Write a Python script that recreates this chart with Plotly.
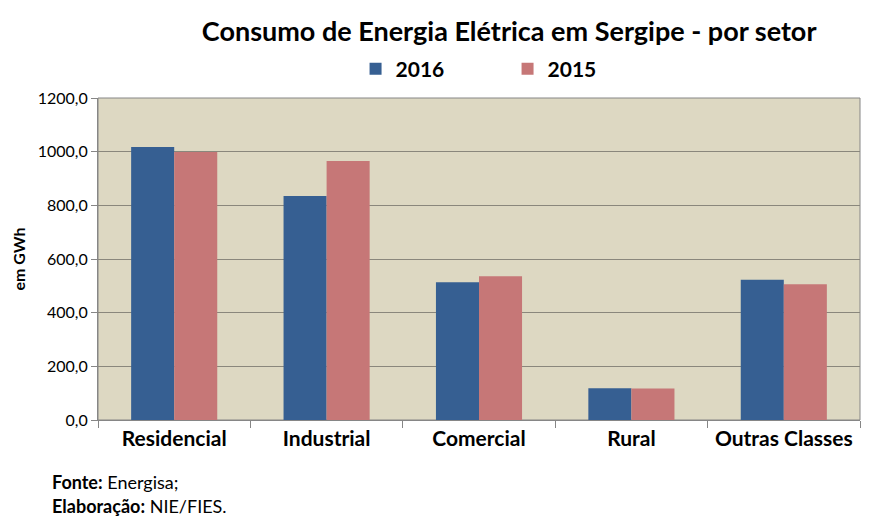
import plotly.graph_objects as go

setores = ["Residencial", "Industrial", "Comercial", "Rural", "Outras Classes"]
consumo_2016 = [1017.0, 835.0, 513.0, 118.0, 523.0]
consumo_2015 = [999.0, 965.0, 536.0, 117.0, 506.0]

FONTE = "Lato, 'Open Sans', sans-serif"

fig = go.Figure()
fig.add_trace(go.Bar(x=setores, y=consumo_2016, name="<b>2016</b>",
                     marker=dict(color="#365f92", line=dict(width=0))))
fig.add_trace(go.Bar(x=setores, y=consumo_2015, name="<b>2015</b>",
                     marker=dict(color="#c67777", line=dict(width=0))))

# the page body adds an 8px offset, so margins are shifted to compensate
fig.update_layout(
    width=887, height=532,
    margin=dict(l=90, r=35, t=90, b=120, autoexpand=False),
    paper_bgcolor="white",
    plot_bgcolor="#ddd8c2",
    font=dict(family=FONTE, color="black"),
    separators=",.",
    barmode="group",
    bargap=0.435,
    bargroupgap=0,
    title=dict(text="<b>Consumo de Energia Elétrica em Sergipe - por setor</b>",
               x=0.565, xanchor="center", y=0.955, yanchor="middle",
               font=dict(size=27)),
    legend=dict(orientation="h", x=0.338, xanchor="left", y=1.09, yanchor="middle",
                font=dict(size=21), itemwidth=30, traceorder="normal",
                entrywidth=107, entrywidthmode="pixels",
                bgcolor="rgba(0,0,0,0)"),
    showlegend=True,
)

fig.update_xaxes(
    tickfont=dict(size=21, family=FONTE),
    tickprefix="<b>", ticksuffix="</b>",
    ticks="outside", tickson="boundaries", ticklen=7, tickcolor="#868686",
    showline=True, linecolor="#868686", linewidth=1,
    automargin=False,
)
fig.update_yaxes(
    range=[0, 1200], dtick=200, tickformat=".1f",
    tickfont=dict(size=16),
    ticks="outside", ticklen=6, tickcolor="#868686",
    showline=True, linecolor="#868686", linewidth=1,
    gridcolor="#8a877c", gridwidth=1,
    zeroline=False, automargin=False,
    title=dict(text="<b>em GWh</b>", font=dict(size=16), standoff=8),
)
fig.add_shape(type="rect", xref="paper", yref="paper", x0=0, x1=1, y0=0, y1=1,
              line=dict(color="#868686", width=1), layer="below")

fig.add_annotation(text="<b>Fonte:</b> Energisa;", xref="paper", yref="paper",
                   x=-0.063, y=-0.193, xanchor="left", yanchor="middle",
                   showarrow=False, font=dict(size=18))
fig.add_annotation(text="<b>Elaboração:</b> NIE/FIES.", xref="paper", yref="paper",
                   x=-0.063, y=-0.267, xanchor="left", yanchor="middle",
                   showarrow=False, font=dict(size=18))

fig.write_html("out.html")
